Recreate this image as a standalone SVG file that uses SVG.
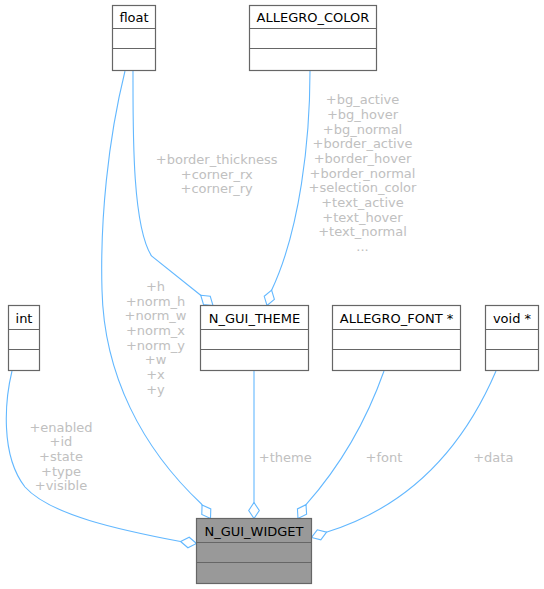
<svg xmlns="http://www.w3.org/2000/svg" width="544" height="589" viewBox="0 0 544 589">
<style>
.box{fill:#ffffff;stroke:#666666;stroke-width:1.2}
.main{fill:#999999;stroke:#666666;stroke-width:1.2}
.sep{stroke:#666666;stroke-width:1.2;fill:none}
.nt{font-family:"DejaVu Sans",sans-serif;font-size:13px;fill:#000000;text-anchor:middle}
.lb{font-family:"DejaVu Sans",sans-serif;font-size:13px;fill:#c0c0c0;text-anchor:middle}
.edge{fill:none;stroke:#63b8ff;stroke-width:1.1;marker-end:url(#dia)}
</style>
<defs>
<marker id="dia" markerUnits="userSpaceOnUse" viewBox="-1 -7 18 14" markerWidth="18" markerHeight="14" refX="16" refY="0" orient="auto">
<path d="M0,0 L8,-5.3 L16,0 L8,5.3 Z" fill="#ffffff" stroke="#63b8ff" stroke-width="1.1"/>
</marker>
</defs>
<rect width="544" height="589" fill="#ffffff"/>
<g id="connectors">
<path class="edge" d="M12,371 C5,400 0,455 25,487 C50,515 120,530 180.5,541.5 L196.5,543.5"/>
<path class="edge" d="M125,71 C108,140 100,220 102,290 C104,375 142,448 201.5,504 L210.5,518.5"/>
<path class="edge" d="M133,71 C133,130 132,225 151.5,256 L201,295.5 L213,305.5"/>
<path class="edge" d="M310,71 C310,140 300,230 271.6,290.2 L267,305.5"/>
<path class="edge" d="M254,371 L254,518.5"/>
<path class="edge" d="M384,371 C372,405 350,455 306,504.7 L298,518.5"/>
<path class="edge" d="M496,371 C475,420 430,500 327,532 L311.5,537.5"/>
<g id="labels">
<text class="lb" x="61" y="431.7">+enabled</text>
<text class="lb" x="61" y="446.4">+id</text>
<text class="lb" x="61" y="461">+state</text>
<text class="lb" x="61" y="475.7">+type</text>
<text class="lb" x="61" y="490.4">+visible</text>
<text class="lb" x="155.5" y="291">+h</text>
<text class="lb" x="155.5" y="305.7">+norm_h</text>
<text class="lb" x="155.5" y="320.3">+norm_w</text>
<text class="lb" x="155.5" y="335">+norm_x</text>
<text class="lb" x="155.5" y="349.7">+norm_y</text>
<text class="lb" x="155.5" y="364.3">+w</text>
<text class="lb" x="155.5" y="379">+x</text>
<text class="lb" x="155.5" y="393.7">+y</text>
<text class="lb" x="216.7" y="164">+border_thickness</text>
<text class="lb" x="216.7" y="178.7">+corner_rx</text>
<text class="lb" x="216.7" y="193.3">+corner_ry</text>
<text class="lb" x="362.5" y="104.2">+bg_active</text>
<text class="lb" x="362.5" y="118.9">+bg_hover</text>
<text class="lb" x="362.5" y="133.5">+bg_normal</text>
<text class="lb" x="362.5" y="148.2">+border_active</text>
<text class="lb" x="362.5" y="162.9">+border_hover</text>
<text class="lb" x="362.5" y="177.5">+border_normal</text>
<text class="lb" x="362.5" y="192.2">+selection_color</text>
<text class="lb" x="362.5" y="206.9">+text_active</text>
<text class="lb" x="362.5" y="221.5">+text_hover</text>
<text class="lb" x="362.5" y="236.2">+text_normal</text>
<text class="lb" x="362.5" y="250.9">...</text>
<text class="lb" x="285.3" y="461.5">+theme</text>
<text class="lb" x="384" y="461.5">+font</text>
<text class="lb" x="493.3" y="461.5">+data</text>
</g>
</g>
<g id="float">
<rect class="box" x="112.5" y="5.5" width="43" height="65"/>
<path class="sep" d="M112.5,28.5 H155.5 M112.5,48.5 H155.5"/>
<text class="nt" x="134" y="22.3">float</text>
</g>
<g id="allegro_color">
<rect class="box" x="249.5" y="5.5" width="127" height="65"/>
<path class="sep" d="M249.5,28.5 H376.5 M249.5,48.5 H376.5"/>
<text class="nt" x="313" y="22.3">ALLEGRO_COLOR</text>
</g>
<g id="int">
<rect class="box" x="8.5" y="305.5" width="31" height="65"/>
<path class="sep" d="M8.5,329.5 H39.5 M8.5,349.5 H39.5"/>
<text class="nt" x="24" y="322.8">int</text>
</g>
<g id="n_gui_theme">
<rect class="box" x="200.5" y="305.5" width="108" height="65"/>
<path class="sep" d="M200.5,329.5 H308.5 M200.5,349.5 H308.5"/>
<text class="nt" x="254.5" y="322.8">N_GUI_THEME</text>
</g>
<g id="allegro_font">
<rect class="box" x="332.5" y="305.5" width="128" height="65"/>
<path class="sep" d="M332.5,329.5 H460.5 M332.5,349.5 H460.5"/>
<text class="nt" x="396.5" y="322.8">ALLEGRO_FONT *</text>
</g>
<g id="void">
<rect class="box" x="485.5" y="305.5" width="53" height="65"/>
<path class="sep" d="M485.5,329.5 H538.5 M485.5,349.5 H538.5"/>
<text class="nt" x="512" y="322.8">void *</text>
</g>
<g id="n_gui_widget">
<rect class="main" x="196.5" y="518.5" width="115" height="65"/>
<path class="sep" d="M196.5,542.5 H311.5 M196.5,562.5 H311.5"/>
<text class="nt" x="254" y="535.8">N_GUI_WIDGET</text>
</g>
</svg>
